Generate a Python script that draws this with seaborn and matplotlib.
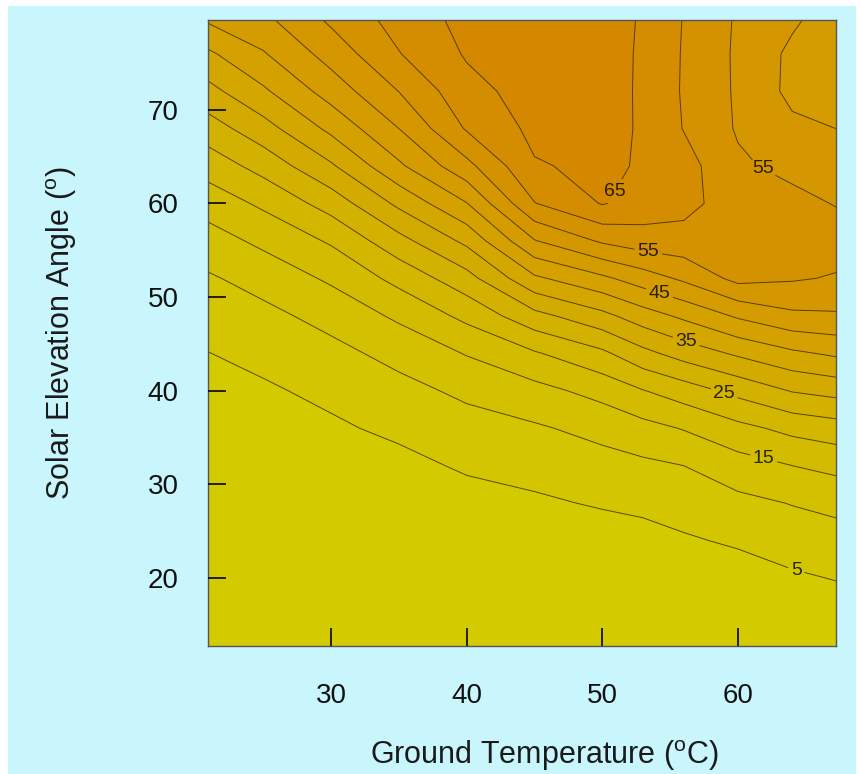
import numpy as np
import matplotlib
matplotlib.use('Agg')
import matplotlib.pyplot as plt
from matplotlib.patches import Rectangle
import seaborn as sns

# grid
ground_temp = [20.9, 25, 30, 35, 40, 45, 50, 53, 56, 60, 64, 67.5]
solar_angle = [12, 16, 20, 24, 28, 32, 36, 40, 44, 48, 52, 56, 60, 64, 68, 72, 76, 80]

# one column per ground temperature, low -> high solar angle
col_21 = [-2, -1, 0, 0.5, 1, 2, 3, 4, 4.9, 7.1, 9.4, 12.8, 17.1, 22.1, 27.6, 33.4, 39.1, 46.3]
col_25 = [-3, -2, -1, 0, 1, 2, 3.2, 4.3, 6.4, 8.7, 11.8, 16.1, 20.9, 26.8, 33.0, 39.2, 44.6, 49.2]
col_30 = [-3, -2, -1, 0.5, 2, 3, 4.2, 6.2, 8.6, 11.6, 15.8, 20.6, 27.1, 34.3, 41.2, 47.2, 52.0, 56.3]
col_35 = [-4, -3, -2, -0.5, 1.5, 3.5, 6.1, 8.5, 11.5, 15.9, 21.5, 28.3, 36.1, 44.1, 50.0, 55.1, 59.8, 62.0]
col_40 = [-4, -3, -2, 0, 3, 5.7, 8.1, 11.0, 15.3, 21.3, 28.1, 36.2, 44.8, 53.5, 60.5, 63.4, 65.5, 66.6]
col_45 = [-4, -3, -1.5, 1, 4.2, 6.8, 9.4, 13.4, 19.5, 28.4, 39.1, 49.7, 59.8, 64.6, 66.2, 67.0, 67.5, 67.6]
col_50 = [-3, -2, -0.5, 2.5, 5.5, 8.2, 11.5, 16.7, 24.0, 33.6, 44.0, 55.7, 65.3, 66.0, 66.5, 67.0, 67.2, 67.3]
col_53 = [-3, -1.5, 0.5, 3.3, 6.1, 9.0, 13.4, 19.8, 28.6, 37.7, 47.5, 57.7, 63.0, 64.5, 64.5, 64.3, 64.3, 64.5]
col_56 = [-2.5, -1, 1.5, 4.4, 7.2, 10.0, 15.3, 22.5, 32.1, 41.0, 50.9, 58.2, 61.5, 62.0, 59.8, 59.5, 59.6, 59.8]
col_60 = [-2, 0, 2.6, 5.7, 8.7, 12.9, 18.6, 26.5, 35.8, 45.7, 56.5, 58.3, 57.5, 55.8, 54.5, 54.3, 54.2, 54.4]
col_64 = [-1, 1.5, 4.3, 7.3, 10.2, 15.0, 21.4, 30.3, 39.1, 49.0, 55.5, 57.5, 56.5, 53.6, 51.1, 48.7, 48.9, 51.0]
col_67 = [0, 2.5, 5.3, 8.1, 11.4, 16.5, 22.9, 31.8, 41.0, 49.4, 54.5, 57.2, 54.6, 52.3, 49.9, 48.0, 47.3, 47.3]

contour_levels = [5, 10, 15, 20, 25, 30, 35, 40, 45, 50, 55, 60, 65]
labelled_levels = [5, 15, 25, 35, 45, 55, 65]
plain_levels = [10, 20, 30, 40, 50, 60]
# where the reference puts its inline labels
label_spots = [(64.4, 21.4), (62.0, 33.4), (59.0, 39.8), (56.1, 44.9),
               (54.2, 50.4), (53.4, 55.0), (61.8, 63.6), (50.7, 61.5)]

sns.set_style("ticks")
plt.rcParams['font.family'] = ['Liberation Sans', 'DejaVu Sans']
plt.rcParams['mathtext.fontset'] = 'custom'
plt.rcParams['mathtext.rm'] = 'Liberation Sans'

Z = np.column_stack([col_21, col_25, col_30, col_35, col_40, col_45, col_50,
                     col_53, col_56, col_60, col_64, col_67])

fig = plt.figure(figsize=(8.62, 7.74), dpi=100)
fig.patch.set_facecolor('white')
fig.patches.append(Rectangle((0.0093, 0.0), 0.9838, 0.9922, transform=fig.transFigure,
                             facecolor='#c9f6fc', edgecolor='none', zorder=-1))

ax = fig.add_axes([0.2413, 0.1654, 0.7285, 0.8088])
ax.set_axisbelow(False)
bounds = [-10] + contour_levels + [70]
bandColors = sns.blend_palette(['#d3ca00', '#d48800'], n_colors=len(bounds) - 1)
ax.contourf(ground_temp, solar_angle, Z, levels=bounds, colors=bandColors)
lineStyle = dict(colors='#3a2a00', linewidths=0.7, alpha=0.8)
ax.contour(ground_temp, solar_angle, Z, levels=plain_levels, **lineStyle)
cs = ax.contour(ground_temp, solar_angle, Z, levels=labelled_levels, **lineStyle)
ax.clabel(cs, manual=label_spots, inline=True, inline_spacing=3, fontsize=14,
          fmt='%d', colors='black')
for txt in cs.labelTexts:
    txt.set_rotation(0)

ax.set_xlim(20.93, 67.22)
ax.set_ylim(12.74, 79.6)
ax.set_xticks([30, 40, 50, 60])
ax.set_yticks([20, 30, 40, 50, 60, 70])
ax.tick_params(direction='in', length=13, width=1.3, labelsize=20, colors='#111111')
ax.tick_params(axis='x', pad=27)
ax.tick_params(axis='y', pad=21)
for side in ax.spines.values():
    side.set_color('#555555')
    side.set_linewidth(1)

ax.set_xlabel(r'Ground Temperature ($^{\mathrm{o}}$C)', fontsize=22, color='#1a1a1a')
ax.set_ylabel(r'Solar Elevation Angle ($^{\mathrm{o}}$)', fontsize=22, color='#1a1a1a')
ax.xaxis.set_label_coords(0.535, -0.147)
ax.yaxis.set_label_coords(-0.205, 0.5)

plt.savefig('out.png', dpi=100, facecolor=fig.get_facecolor())
plt.close()
